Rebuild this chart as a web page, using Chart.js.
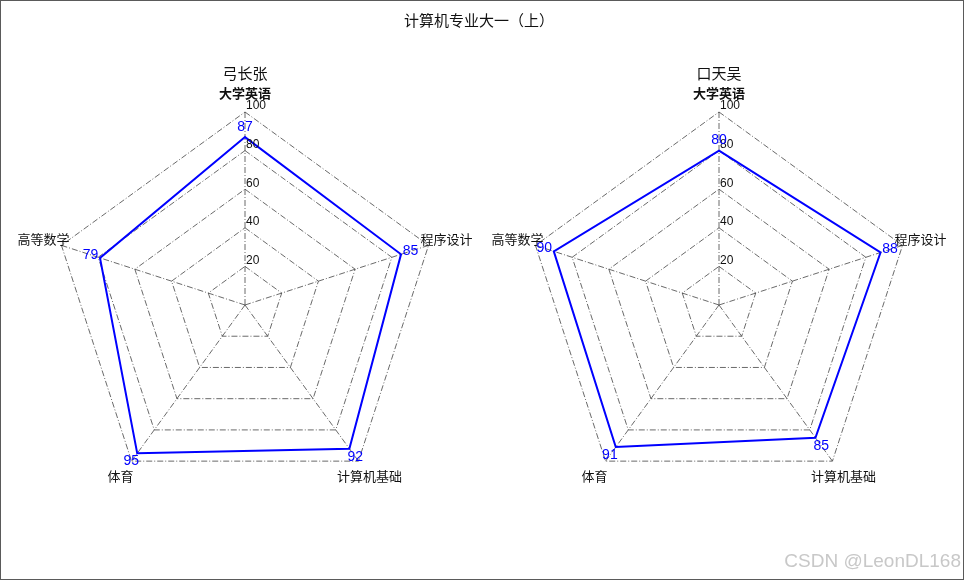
<!DOCTYPE html>
<html>
<head>
<meta charset="utf-8">
<title>计算机专业大一（上）</title>
<script src="https://cdn.jsdelivr.net/npm/chart.js@4.4.1/dist/chart.umd.min.js"></script>
<style>
  html, body { margin: 0; padding: 0; background: #fff; }
  #wrap { position: relative; width: 964px; height: 580px; overflow: hidden; background: #fff; }
  #wrap canvas { position: absolute; left: 0; top: 0; }
  #mark { position: absolute; right: 3px; top: 550px; font: 19px "Liberation Sans", Arial, sans-serif; color: #c8c8c8; }
  #frame { position: absolute; left: 0; top: 0; width: 964px; height: 580px; box-sizing: border-box; border: 1px solid #5a5a5a; pointer-events: none; }
</style>
</head>
<body>
<div id="wrap">
  <canvas id="chart-zhang" width="964" height="580"></canvas>
  <canvas id="chart-wu" width="964" height="580"></canvas>
  <div id="mark">CSDN @LeonDL168</div>
  <div id="frame"></div>
</div>
<script>
// Data
const pageTitle = '计算机专业大一（上）';
const subjects = ['大学英语', '程序设计', '计算机基础', '体育', '高等数学'];
const zhangScores = [87, 85, 92, 95, 79];
const wuScores = [80, 88, 85, 91, 90];
const tickValues = [20, 40, 60, 80, 100];

const CN_FONT = '"Noto Sans CJK SC", sans-serif';
const NUM_FONT = '"Liberation Sans", Arial, sans-serif';
const DASH_DOT = [6, 2, 1, 2];

function makeRadar(canvasId, student, scores, cx, showTitle) {
    const cy = 305;
    const radius = 193;

    // texts drawn on top of the radar: titles, subject names, ticks, values
    const textPlugin = {
        id: 'radarTexts',
        afterDraw(chart) {
            const ctx = chart.ctx;
            const r = chart.scales.r;
            ctx.save();
            ctx.textAlign = 'center';
            ctx.textBaseline = 'middle';
            ctx.fillStyle = '#111';
            if (showTitle) {
                ctx.font = '15px ' + CN_FONT;
                ctx.fillText(pageTitle, 479, 20);
            }
            ctx.font = '15px ' + CN_FONT;
            ctx.fillText(student, cx, 73);

            subjects.forEach((name, i) => {
                const p = r.getPointPosition(i, 212);
                ctx.font = (i === 0 ? 'bold ' : '') + '13px ' + CN_FONT;
                ctx.fillText(name, p.x, p.y);
            });

            ctx.textAlign = 'left';
            ctx.font = '12px ' + NUM_FONT;
            ctx.fillStyle = '#111';
            tickValues.forEach(v => {
                const p = r.getPointPositionForValue(0, v);
                ctx.fillText(String(v), p.x + 1, p.y - 6);
            });

            ctx.textAlign = 'center';
            ctx.font = '14px ' + NUM_FONT;
            ctx.fillStyle = '#0000ff';
            scores.forEach((v, i) => {
                const p = r.getPointPosition(i, r.getDistanceFromCenterForValue(v) + 10);
                ctx.fillText(String(v), p.x, p.y);
            });
            ctx.restore();
        }
    };

    return new Chart(document.getElementById(canvasId), {
        type: 'radar',
        data: {
            labels: subjects,
            datasets: [{
                label: student,
                data: scores,
                borderColor: '#0000ff',
                backgroundColor: 'rgba(0,0,0,0)',
                borderWidth: 2,
                fill: false,
                pointRadius: 0,
                tension: 0
            }]
        },
        options: {
            responsive: false,
            animation: false,
            layout: { padding: 0 },
            plugins: {
                legend: { display: false },
                tooltip: { enabled: false }
            },
            scales: {
                r: {
                    min: 0,
                    max: 100,
                    ticks: { display: false, stepSize: 20 },
                    pointLabels: { display: false },
                    grid: { color: '#444', lineWidth: 0.8, borderDash: DASH_DOT },
                    border: { dash: DASH_DOT },
                    angleLines: { color: '#444', lineWidth: 0.8, borderDash: DASH_DOT },
                    afterFit(scale) {
                        // pin centre and radius so both radars sit like the original
                        scale.xCenter = cx;
                        scale.yCenter = cy;
                        scale.drawingArea = radius;
                    }
                }
            }
        },
        plugins: [textPlugin]
    });
}

makeRadar('chart-zhang', '弓长张', zhangScores, 245, true);
makeRadar('chart-wu', '口天吴', wuScores, 719, false);
</script>
</body>
</html>
